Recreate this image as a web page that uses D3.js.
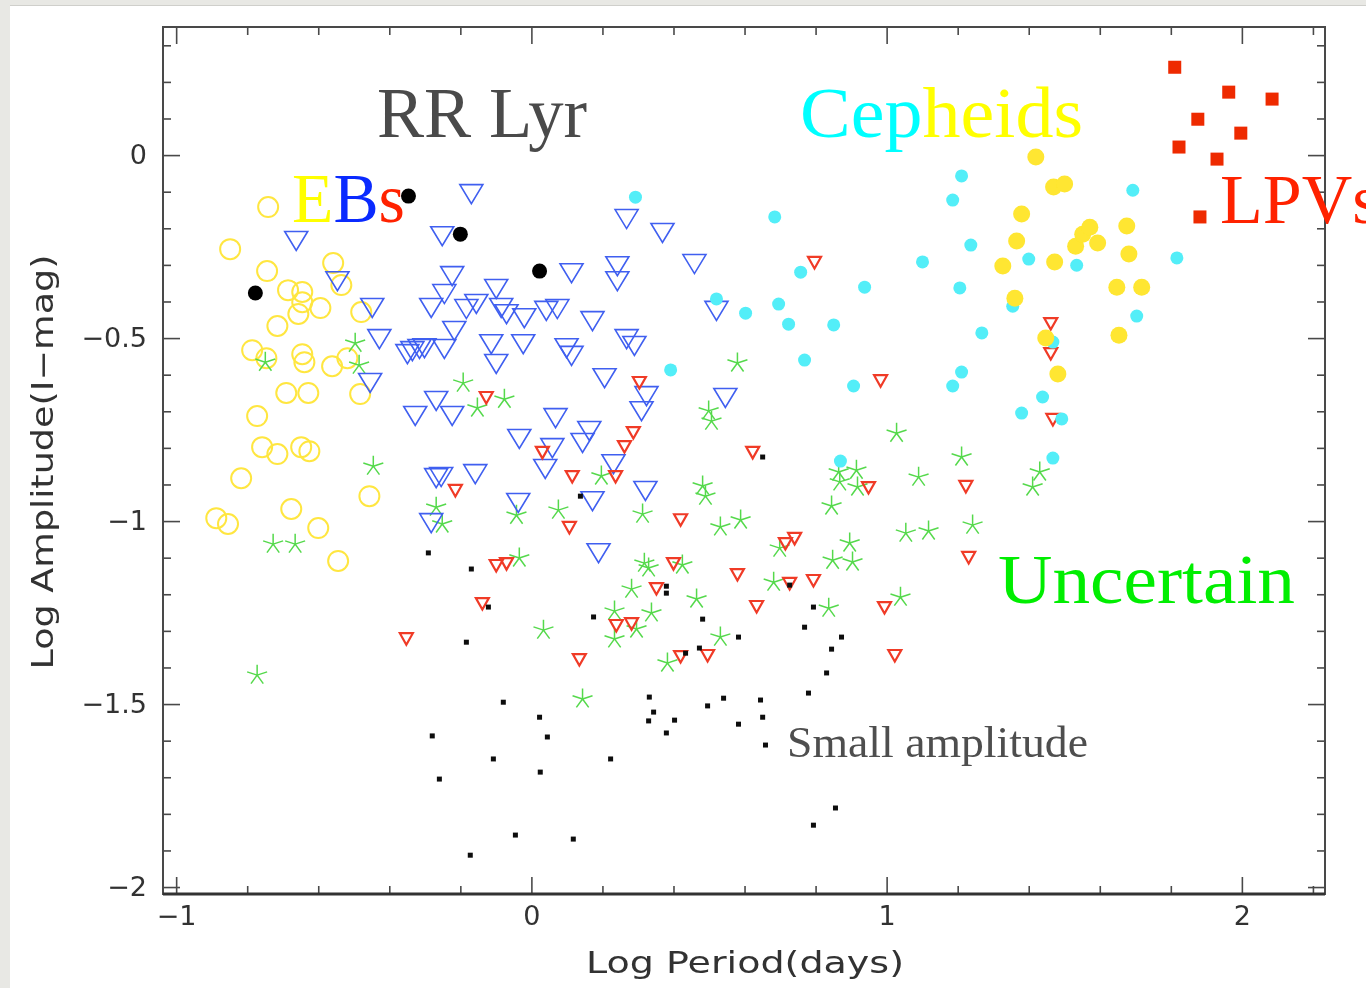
<!DOCTYPE html>
<html>
<head>
<meta charset="utf-8">
<title>Log Amplitude vs Log Period</title>
<script src="https://cdn.jsdelivr.net/npm/d3@7"></script>
<style>
    html, body { margin: 0; padding: 0; background: #e8e8e4; overflow: hidden; }
    #chart { display: block; }
</style>
</head>
<body>
<svg id="chart" width="1366" height="988"></svg>
<script>
'use strict';

// Tick values
const xMajorTicks = [-1, 0, 1, 2];
const xMinorTicks = [-0.8, -0.6, -0.4, -0.2, 0.2, 0.4, 0.6, 0.8, 1.2, 1.4, 1.6, 1.8, 2.2];
const yMajorTicks = [0, -0.5, -1, -1.5, -2];

// Series, each point is [log period (days), log amplitude (I mag)]
const ebOpenCircles = [
    [-0.741, -0.142], [-0.848, -0.257], [-0.744, -0.317], [-0.558, -0.295], [-0.535, -0.355],
    [-0.685, -0.369], [-0.645, -0.374], [-0.645, -0.402], [-0.594, -0.418], [-0.656, -0.434],
    [-0.479, -0.429], [-0.715, -0.467], [-0.786, -0.533], [-0.746, -0.555], [-0.645, -0.544],
    [-0.639, -0.566], [-0.561, -0.577], [-0.518, -0.555], [-0.690, -0.650], [-0.628, -0.650],
    [-0.482, -0.653], [-0.772, -0.713], [-0.758, -0.798], [-0.715, -0.817], [-0.648, -0.798],
    [-0.625, -0.809], [-0.817, -0.883], [-0.456, -0.932], [-0.676, -0.967], [-0.887, -0.992],
    [-0.854, -1.008], [-0.600, -1.019], [-0.544, -1.109]
];

const rrLyrFilled = [
    [-0.777, -0.377], [-0.346, -0.112], [-0.200, -0.216], [0.023, -0.317]
];

const blueTriangles = [
    [-0.662, -0.232], [-0.546, -0.342], [-0.448, -0.415], [-0.428, -0.500], [-0.454, -0.620],
    [-0.349, -0.541], [-0.335, -0.533], [-0.315, -0.527], [-0.301, -0.525], [-0.282, -0.415],
    [-0.245, -0.377], [-0.223, -0.328], [-0.251, -0.219], [-0.169, -0.104], [-0.217, -0.478],
    [-0.245, -0.527], [-0.183, -0.418], [-0.155, -0.404], [-0.099, -0.363], [-0.085, -0.415],
    [-0.070, -0.432], [-0.020, -0.443], [0.042, -0.423], [0.073, -0.418], [0.113, -0.320],
    [0.268, -0.172], [0.369, -0.210], [0.459, -0.295], [0.242, -0.301], [0.242, -0.342],
    [0.521, -0.423], [0.172, -0.451], [-0.113, -0.514], [-0.099, -0.568], [-0.023, -0.514],
    [0.099, -0.525], [0.113, -0.546], [0.268, -0.500], [0.290, -0.519], [0.206, -0.607],
    [0.324, -0.656], [0.310, -0.697], [0.546, -0.661], [-0.268, -0.669], [-0.327, -0.710],
    [-0.223, -0.710], [0.068, -0.716], [0.163, -0.751], [-0.034, -0.773], [0.059, -0.798],
    [0.144, -0.784], [0.039, -0.855], [0.231, -0.842], [-0.268, -0.880], [-0.254, -0.877],
    [-0.158, -0.869], [-0.037, -0.948], [0.172, -0.943], [0.321, -0.915], [-0.282, -1.003],
    [0.189, -1.085]
];

const redTriangles = [
    [-0.127, -0.661], [0.304, -0.620], [0.797, -0.292], [0.983, -0.615], [0.287, -0.757],
    [0.262, -0.795], [0.031, -0.811], [0.623, -0.811], [0.115, -0.877], [0.237, -0.877],
    [-0.214, -0.915], [0.949, -0.907], [1.223, -0.904], [0.420, -0.995], [0.107, -1.016],
    [0.715, -1.060], [0.741, -1.046], [1.231, -1.098], [-0.099, -1.120], [-0.070, -1.115],
    [0.400, -1.115], [0.580, -1.145], [0.352, -1.183], [0.727, -1.169], [0.794, -1.161],
    [0.634, -1.232], [0.994, -1.235], [-0.138, -1.224], [-0.352, -1.320], [0.239, -1.284],
    [0.282, -1.279], [0.135, -1.377], [0.420, -1.369], [0.496, -1.366], [1.023, -1.366],
    [1.462, -0.459], [1.462, -0.541], [1.468, -0.721]
];

const smallAmplitude = [
    [-0.290, -1.087], [-0.169, -1.131], [-0.121, -1.235], [-0.183, -1.331], [0.175, -1.262],
    [0.380, -1.178], [0.380, -1.197], [0.482, -1.268], [0.583, -1.317], [0.434, -1.361],
    [0.473, -1.347], [0.727, -1.175], [0.794, -1.235], [0.769, -1.290], [0.873, -1.317],
    [0.845, -1.350], [0.831, -1.415], [0.780, -1.470], [-0.079, -1.495], [0.023, -1.536],
    [-0.279, -1.587], [0.045, -1.590], [-0.107, -1.650], [-0.259, -1.705], [0.025, -1.686],
    [0.223, -1.650], [0.332, -1.481], [0.344, -1.522], [0.330, -1.546], [0.403, -1.544],
    [0.380, -1.579], [0.496, -1.505], [0.541, -1.484], [0.583, -1.555], [0.645, -1.489],
    [0.651, -1.536], [0.659, -1.612], [0.856, -1.784], [0.794, -1.831], [-0.045, -1.858],
    [0.118, -1.869], [-0.172, -1.913], [0.651, -0.825], [0.138, -0.932]
];

const uncertainStars = [
    [-0.772, -1.421], [-0.749, -0.566], [-0.496, -0.514], [-0.485, -0.574], [-0.445, -0.850],
    [-0.268, -0.962], [-0.251, -1.008], [-0.727, -1.063], [-0.665, -1.063], [-0.192, -0.623],
    [-0.152, -0.691], [-0.076, -0.667], [-0.042, -0.984], [0.076, -0.970], [0.197, -0.877],
    [-0.034, -1.101], [0.034, -1.298], [0.144, -1.486], [0.313, -0.981], [0.318, -1.115],
    [0.330, -1.128], [0.425, -1.120], [0.282, -1.186], [0.234, -1.246], [0.338, -1.251],
    [0.465, -1.213], [0.296, -1.295], [0.234, -1.322], [0.532, -1.317], [0.383, -1.388],
    [0.499, -0.699], [0.507, -0.727], [0.580, -0.568], [0.482, -0.904], [0.490, -0.932],
    [0.532, -1.016], [0.589, -0.997], [0.699, -1.074], [0.682, -1.167], [0.845, -0.959],
    [0.865, -0.866], [0.868, -0.893], [0.915, -0.861], [0.918, -0.907], [0.848, -1.107],
    [0.904, -1.112], [0.896, -1.060], [0.837, -1.238], [1.028, -0.760], [1.090, -0.880],
    [1.054, -1.033], [1.118, -1.027], [1.242, -1.011], [1.211, -0.825], [1.039, -1.208],
    [1.431, -0.866], [1.411, -0.907]
];

const cepheidCyan = [
    [0.293, -0.115], [0.685, -0.169], [1.211, -0.057], [1.186, -0.123], [1.237, -0.246],
    [1.101, -0.292], [0.758, -0.320], [0.938, -0.361], [1.206, -0.363], [0.521, -0.393],
    [0.603, -0.432], [0.696, -0.407], [0.724, -0.462], [0.851, -0.464], [1.268, -0.486],
    [0.769, -0.560], [0.392, -0.587], [0.907, -0.631], [1.211, -0.593], [1.186, -0.631],
    [1.400, -0.284], [1.535, -0.301], [1.693, -0.096], [1.817, -0.281], [1.355, -0.413],
    [1.704, -0.440], [1.468, -0.511], [1.439, -0.661], [1.380, -0.705], [1.493, -0.721],
    [1.468, -0.828], [0.870, -0.836]
];

const cepheidYellow = [
    [1.420, -0.005], [1.470, -0.087], [1.501, -0.079], [1.380, -0.161], [1.366, -0.235],
    [1.327, -0.303], [1.473, -0.292], [1.532, -0.249], [1.552, -0.216], [1.572, -0.197],
    [1.594, -0.240], [1.676, -0.194], [1.682, -0.270], [1.648, -0.361], [1.718, -0.361],
    [1.361, -0.391], [1.448, -0.500], [1.654, -0.492], [1.482, -0.598]
];

const lpvSquares = [
    [1.811, 0.240], [1.963, 0.172], [2.085, 0.153], [1.876, 0.098], [1.997, 0.060],
    [1.823, 0.022], [1.930, -0.011], [1.882, -0.169]
];

// Configuration
const CONFIG = {
    width: 1366,
    height: 988,
    frame: { left: 163, right: 1325, top: 27, bottom: 894 },
    xDomain: [-1.037, 2.234],
    yDomain: [-2.019, 0.35],
    axisColor: '#4a4a4a',
    labelColor: '#333',
    colors: {
        ebCircle: '#ffe640',
        blueTri: '#3f5ff0',
        redTri: '#f03a28',
        star: '#55d94c',
        cyan: '#52eef8',
        yellow: '#ffe630',
        lpv: '#ee2a06',
        black: '#111'
    }
};

const svg = d3.select('#chart');
const F = CONFIG.frame;

// White slide panel behind the plot
svg.append('rect')
    .attr('x', 10).attr('y', 6)
    .attr('width', CONFIG.width - 10).attr('height', CONFIG.height - 6)
    .attr('fill', '#fff');
svg.append('line')
    .attr('x1', 10).attr('x2', CONFIG.width).attr('y1', 5.5).attr('y2', 5.5)
    .attr('stroke', '#cfcfcb').attr('stroke-width', 1);

// Soft blur to mimic the scanned figure
const defs = svg.append('defs');
defs.append('filter').attr('id', 'soft')
    .append('feGaussianBlur').attr('stdDeviation', 0.45);

const x = d3.scaleLinear().domain(CONFIG.xDomain).range([F.left, F.right]);
const y = d3.scaleLinear().domain(CONFIG.yDomain).range([F.bottom, F.top]);

const plot = svg.append('g').attr('filter', 'url(#soft)');

// Axes: inward ticks on all four sides
function styleAxis(g) {
    g.select('.domain').remove();
    g.selectAll('.tick line').attr('stroke', CONFIG.axisColor).attr('stroke-width', 1.6);
    g.selectAll('.tick text')
        .attr('fill', CONFIG.labelColor)
        .style('font-family', '"DejaVu Sans", sans-serif')
        .style('font-size', '27px');
}

const fmt = d => d3.format('')(d);

plot.append('g').attr('transform', `translate(0,${F.bottom})`)
    .call(d3.axisBottom(x).tickValues(xMajorTicks).tickSize(-17).tickPadding(12).tickFormat(fmt))
    .call(styleAxis);
plot.append('g').attr('transform', `translate(0,${F.bottom})`)
    .call(d3.axisBottom(x).tickValues(xMinorTicks).tickSize(-8).tickFormat(''))
    .call(styleAxis);
plot.append('g').attr('transform', `translate(0,${F.top})`)
    .call(d3.axisTop(x).tickValues(xMajorTicks).tickSize(-17).tickFormat(''))
    .call(styleAxis);
plot.append('g').attr('transform', `translate(0,${F.top})`)
    .call(d3.axisTop(x).tickValues(xMinorTicks).tickSize(-8).tickFormat(''))
    .call(styleAxis);

const yMinorTicks = d3.range(-20, 4).map(i => i / 10).filter(v => Math.round(v * 10) % 5 !== 0);

plot.append('g').attr('transform', `translate(${F.left},0)`)
    .call(d3.axisLeft(y).tickValues(yMajorTicks).tickSize(-17).tickPadding(16).tickFormat(fmt))
    .call(styleAxis);
plot.append('g').attr('transform', `translate(${F.left},0)`)
    .call(d3.axisLeft(y).tickValues(yMinorTicks).tickSize(-8).tickFormat(''))
    .call(styleAxis);
plot.append('g').attr('transform', `translate(${F.right},0)`)
    .call(d3.axisRight(y).tickValues(yMajorTicks).tickSize(-17).tickFormat(''))
    .call(styleAxis);
plot.append('g').attr('transform', `translate(${F.right},0)`)
    .call(d3.axisRight(y).tickValues(yMinorTicks).tickSize(-8).tickFormat(''))
    .call(styleAxis);

// Frame
plot.append('rect')
    .attr('x', F.left).attr('y', F.top)
    .attr('width', F.right - F.left).attr('height', F.bottom - F.top)
    .attr('fill', 'none').attr('stroke', CONFIG.axisColor).attr('stroke-width', 2);
plot.append('line')
    .attr('x1', F.left).attr('x2', F.right).attr('y1', F.bottom).attr('y2', F.bottom)
    .attr('stroke', '#333').attr('stroke-width', 3);

// Axis titles
plot.append('text')
    .attr('x', 745).attr('y', 973)
    .attr('text-anchor', 'middle')
    .attr('textLength', 318).attr('lengthAdjust', 'spacingAndGlyphs')
    .attr('fill', CONFIG.labelColor)
    .style('font-family', '"DejaVu Sans", sans-serif').style('font-size', '30px')
    .text('Log Period(days)');
plot.append('text')
    .attr('transform', 'translate(53,462) rotate(-90)')
    .attr('text-anchor', 'middle')
    .attr('textLength', 415).attr('lengthAdjust', 'spacingAndGlyphs')
    .attr('fill', CONFIG.labelColor)
    .style('font-family', '"DejaVu Sans", sans-serif').style('font-size', '30px')
    .text('Log Amplitude(I\u2212mag)');

// Marker shapes
function starPath(r) {
    let p = '';
    for (let i = 0; i < 5; i++) {
        const a = -Math.PI / 2 + i * 2 * Math.PI / 5;
        p += `M0,0L${(r * Math.cos(a)).toFixed(2)},${(r * Math.sin(a)).toFixed(2)}`;
    }
    return p;
}
const place = d => `translate(${x(d[0])},${y(d[1])})`;
const marks = plot.append('g');

function drawPaths(data, path, attrs) {
    const sel = marks.append('g').selectAll('path').data(data).join('path')
        .attr('d', path).attr('transform', place);
    Object.entries(attrs).forEach(([k, v]) => sel.attr(k, v));
}

// EBs, yellow open circles
marks.append('g').selectAll('circle').data(ebOpenCircles).join('circle')
    .attr('cx', d => x(d[0])).attr('cy', d => y(d[1])).attr('r', 10)
    .attr('fill', 'none').attr('stroke', CONFIG.colors.ebCircle).attr('stroke-width', 2);

// Uncertain, green asterisks
drawPaths(uncertainStars, starPath(10.5),
    { fill: 'none', stroke: CONFIG.colors.star, 'stroke-width': 1.5 });

// Blue open triangles
drawPaths(blueTriangles, 'M-11.5,-8.5L11.5,-8.5L0,10.5Z',
    { fill: 'none', stroke: CONFIG.colors.blueTri, 'stroke-width': 1.6, 'stroke-linejoin': 'miter' });

// Red small triangles
drawPaths(redTriangles, 'M-6.5,-5L6.5,-5L0,6.5Z',
    { fill: 'none', stroke: CONFIG.colors.redTri, 'stroke-width': 2.2 });

// Small amplitude black dots
marks.append('g').selectAll('rect').data(smallAmplitude).join('rect')
    .attr('x', d => x(d[0]) - 2.5).attr('y', d => y(d[1]) - 2.5)
    .attr('width', 5).attr('height', 5).attr('fill', CONFIG.colors.black);

// Cepheids
marks.append('g').selectAll('circle').data(cepheidCyan).join('circle')
    .attr('cx', d => x(d[0])).attr('cy', d => y(d[1])).attr('r', 6.5)
    .attr('fill', CONFIG.colors.cyan);
marks.append('g').selectAll('circle').data(cepheidYellow).join('circle')
    .attr('cx', d => x(d[0])).attr('cy', d => y(d[1])).attr('r', 8.5)
    .attr('fill', CONFIG.colors.yellow);

// LPVs
marks.append('g').selectAll('rect').data(lpvSquares).join('rect')
    .attr('x', d => x(d[0]) - 6.5).attr('y', d => y(d[1]) - 6.5)
    .attr('width', 13).attr('height', 13).attr('fill', CONFIG.colors.lpv);

// RR Lyr, filled black circles
marks.append('g').selectAll('circle').data(rrLyrFilled).join('circle')
    .attr('cx', d => x(d[0])).attr('cy', d => y(d[1])).attr('r', 7.5)
    .attr('fill', '#000');

// Class annotations
const serif = '"Liberation Serif", "Times New Roman", serif';
function label(px, py, size, width, parts) {
    const t = svg.append('text')
        .attr('x', px).attr('y', py)
        .style('font-family', serif).style('font-size', size + 'px');
    if (width) t.attr('textLength', width).attr('lengthAdjust', 'spacingAndGlyphs');
    parts.forEach(([txt, col]) => t.append('tspan').attr('fill', col).text(txt));
}
label(377, 137, 72, 210, [['RR Lyr', '#4a4a4a']]);
label(292, 222, 70, 113, [['E', '#ffff00'], ['B', '#0a2aff'], ['s', '#ff2200']]);
label(800, 137, 72, 283, [['Cep', '#00ffff'], ['heids', '#ffff00']]);
label(1220, 223, 70, null, [['LPVs', '#ff2200']]);
label(998, 603, 70, 297, [['Uncertain', '#00ee00']]);
label(787, 757, 44, 301, [['Small amplitude', '#4e4e4e']]);
</script>
</body>
</html>
